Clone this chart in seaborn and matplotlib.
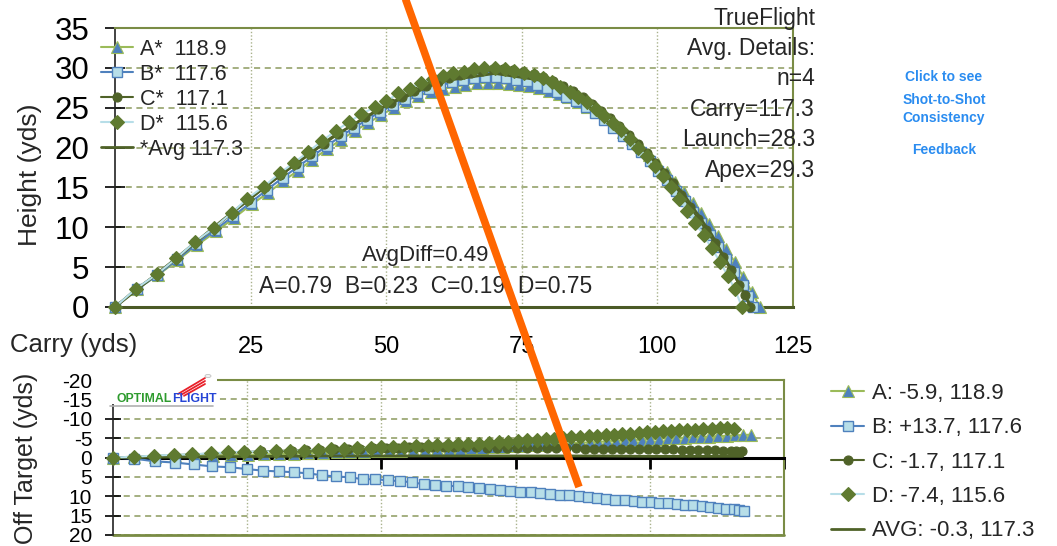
import matplotlib
matplotlib.use("Agg")
import matplotlib.pyplot as plt
from matplotlib.lines import Line2D
from matplotlib.patches import Rectangle, Circle
import seaborn as sns

# --- shot data (yds) ---
shots = ["A", "B", "C", "D"]
carry_final = [118.9, 117.6, 117.1, 115.6]
offline_final = ["-5.9", "+13.7", "-1.7", "-7.4"]
avg_carry, avg_offline = 117.3, "-0.3"

A_carry = [0, 4.0, 7.9, 11.6, 15.2, 18.7, 22.0, 25.2, 28.2, 31.0,
           33.7, 36.4, 39.1, 41.7, 44.2, 46.7, 49.1, 51.4, 53.7, 55.9,
           58.2, 60.4, 62.6, 64.6, 66.7, 68.8, 70.7, 72.6, 74.5, 76.3,
           78.1, 80.0, 81.8, 83.6, 85.4, 87.1, 88.8, 90.4, 92.0, 93.7,
           95.3, 96.9, 98.5, 100.1, 101.7, 103.3, 104.9, 106.5, 108.0, 109.6,
           111.1, 112.7, 114.3, 115.8, 117.4, 118.9]
A_height = [0, 2.2, 4.0, 5.9, 7.8, 9.5, 11.2, 12.9, 14.3, 15.8,
            17.1, 18.5, 19.8, 21.0, 22.1, 23.1, 24.1, 25.0, 25.9, 26.5,
            27.0, 27.4, 27.6, 27.9, 28.1, 28.1, 28.1, 28.0, 27.9, 27.7,
            27.5, 27.1, 26.7, 26.3, 25.7, 25.1, 24.4, 23.7, 22.9, 22.0,
            21.1, 20.1, 19.1, 18.0, 16.9, 15.7, 14.4, 13.1, 11.8, 10.4,
            8.9, 7.3, 5.6, 3.8, 1.9, 0]
A_offline = [0, -0.1, -0.2, -0.3, -0.4, -0.5, -0.6, -0.7, -0.8, -0.9,
             -1.0, -1.1, -1.2, -1.3, -1.4, -1.5, -1.6, -1.7, -1.8, -1.9,
             -2.0, -2.1, -2.2, -2.3, -2.4, -2.5, -2.6, -2.7, -2.9, -3.0,
             -3.1, -3.3, -3.4, -3.5, -3.7, -3.8, -3.9, -4.0, -4.2, -4.3,
             -4.4, -4.5, -4.6, -4.8, -4.9, -5.0, -5.0, -5.1, -5.2, -5.3,
             -5.4, -5.5, -5.6, -5.7, -5.8, -5.9]

B_carry = [0, 4.0, 7.8, 11.5, 15.0, 18.5, 21.8, 25.0, 28.0, 30.9,
           33.7, 36.4, 39.0, 41.6, 44.1, 46.5, 48.9, 51.2, 53.5, 55.7,
           57.9, 60.0, 62.1, 64.2, 66.2, 68.2, 70.2, 72.1, 74.0, 75.9,
           77.8, 79.6, 81.4, 83.2, 85.0, 86.8, 88.5, 90.2, 91.9, 93.6,
           95.3, 97.0, 98.6, 100.2, 101.8, 103.4, 105.0, 106.6, 108.1, 109.7,
           111.2, 112.7, 114.2, 115.7, 116.7, 117.6]
B_height = [0, 2.2, 4.0, 6.0, 7.9, 9.7, 11.4, 13.1, 14.7, 16.2,
            17.6, 18.9, 20.2, 21.4, 22.5, 23.5, 24.5, 25.3, 26.1, 26.8,
            27.3, 27.8, 28.2, 28.5, 28.7, 28.8, 28.8, 28.7, 28.5, 28.3,
            27.9, 27.5, 27.0, 26.4, 25.8, 25.1, 24.3, 23.4, 22.5, 21.5,
            20.5, 19.4, 18.3, 17.1, 15.9, 14.6, 13.3, 11.9, 10.5, 9.0,
            7.5, 6.0, 4.4, 2.8, 1.4, 0]
B_offline = [0, 0.3, 1.0, 1.3, 1.8, 2.3, 2.5, 3.0, 3.4, 3.6,
             3.8, 4.1, 4.6, 4.9, 5.1, 5.6, 5.6, 5.9, 6.1, 6.4,
             6.9, 7.1, 7.3, 7.4, 7.6, 7.9, 8.1, 8.4, 8.7, 8.8,
             9.0, 9.2, 9.4, 9.6, 9.8, 9.9, 10.1, 10.5, 10.7, 10.9,
             10.9, 11.2, 11.4, 11.5, 11.7, 11.8, 12.1, 12.2, 12.3, 12.5,
             12.7, 13.0, 13.2, 13.4, 13.6, 13.7]

C_carry = [0, 3.9, 7.7, 11.3, 14.8, 18.2, 21.5, 24.6, 27.6, 30.5,
           33.3, 36.0, 38.6, 41.2, 43.7, 46.1, 48.5, 50.8, 53.0, 55.2,
           57.4, 59.5, 61.6, 63.6, 65.6, 67.6, 69.6, 71.5, 73.4, 75.3,
           77.2, 79.0, 80.8, 82.6, 84.4, 86.2, 87.9, 89.6, 91.3, 93.0,
           94.7, 96.4, 98.0, 99.6, 101.2, 102.8, 104.4, 106.0, 107.5, 109.0,
           110.6, 112.1, 113.6, 115.1, 116.1, 117.1]
C_height = [0, 2.3, 4.1, 6.1, 8.1, 9.9, 11.7, 13.4, 15.0, 16.5,
            17.9, 19.2, 20.5, 21.7, 22.8, 23.8, 24.8, 25.6, 26.4, 27.1,
            27.7, 28.2, 28.7, 29.1, 29.4, 29.6, 29.8, 29.8, 29.7, 29.5,
            29.2, 28.8, 28.3, 27.7, 27.1, 26.3, 25.5, 24.6, 23.7, 22.7,
            21.6, 20.5, 19.3, 18.1, 16.8, 15.5, 14.1, 12.6, 11.1, 9.6,
            8.0, 6.3, 4.6, 2.8, 1.5, 0]
C_offline = [0, -0.2, -0.4, -0.6, -0.8, -1.0, -1.2, -1.4, -1.6, -1.7,
             -1.8, -1.9, -2.0, -2.1, -2.2, -2.3, -2.4, -2.5, -2.5, -2.6,
             -2.6, -2.6, -2.6, -2.6, -2.6, -2.6, -2.5, -2.5, -2.5, -2.5,
             -2.5, -2.4, -2.4, -2.4, -2.4, -2.4, -2.3, -2.3, -2.3, -2.3,
             -2.3, -2.2, -2.2, -2.2, -2.1, -2.1, -2.1, -2.0, -2.0, -2.0,
             -1.9, -1.9, -1.8, -1.8, -1.7, -1.7]

D_carry = [0, 3.9, 7.7, 11.3, 14.8, 18.2, 21.5, 24.4, 27.4, 30.4,
           33.0, 35.5, 38.1, 40.7, 43.1, 45.4, 48.0, 50.0, 52.2, 54.3,
           56.5, 58.6, 60.4, 62.4, 64.3, 66.2, 68.1, 70.0, 71.9, 73.6,
           75.4, 77.2, 79.0, 80.6, 82.1, 83.8, 85.4, 87.0, 88.6, 90.2,
           91.8, 93.3, 94.9, 96.4, 98.0, 99.5, 101.0, 102.5, 104.0, 105.5,
           107.0, 108.5, 110.0, 111.5, 113.0, 114.3, 115.6]
D_height = [0, 2.3, 4.1, 6.1, 8.2, 9.9, 11.8, 13.6, 15.1, 16.8,
            18.1, 19.4, 20.8, 22.1, 23.2, 24.2, 25.1, 25.8, 26.8, 27.4,
            28.1, 28.6, 29.0, 29.3, 29.5, 29.8, 30.0, 30.0, 29.9, 29.6,
            29.4, 29.1, 28.7, 28.2, 27.6, 27.0, 26.4, 25.7, 24.9, 24.0,
            23.1, 22.2, 21.1, 20.0, 18.9, 17.7, 16.4, 15.0, 13.6, 12.1,
            10.6, 9.0, 7.4, 5.7, 3.9, 2.2, 0]
D_offline = [0, -0.2, -0.5, -0.7, -0.8, -1.1, -1.3, -1.5, -1.5, -1.6,
             -1.7, -1.8, -2.0, -2.1, -2.2, -2.4, -2.5, -2.6, -2.7, -2.8,
             -2.9, -3.0, -3.1, -3.2, -3.4, -3.5, -3.6, -3.8, -3.9, -4.1,
             -4.3, -4.5, -4.6, -4.8, -4.9, -5.1, -5.3, -5.4, -5.5, -5.6,
             -5.7, -5.9, -6.0, -6.1, -6.3, -6.5, -6.6, -6.8, -6.9, -7.0,
             -7.1, -7.2, -7.3, -7.4, -7.5, -7.5, -7.4]

AVG_carry = [0, 10, 20, 30, 40, 50, 60, 70, 80, 90, 100, 105, 110, 115, 117.3]
AVG_height = [0, 5.4, 11.0, 16.3, 21.3, 25.3, 28.3, 29.3, 28.3, 24.4, 18.1, 14.0, 9.1, 3.0, 0]
AVG_offline = [0, -0.1, -0.2, -0.3, -0.4, -0.4, -0.4, -0.4, -0.4, -0.4, -0.3, -0.3, -0.3, -0.3, -0.3]

details = ["TrueFlight", "Avg. Details:", "n=4", "Carry=117.3", "Launch=28.3", "Apex=29.3"]
avg_diff = "AvgDiff=0.49"
shot_diffs = ["A=0.79", "B=0.23", "C=0.19", "D=0.75"]
feedback = [("Click to see", 77), ("Shot-to-Shot", 100), ("Consistency", 118), ("Feedback", 150)]

data = {
    "A": (A_carry, A_height, A_offline),
    "B": (B_carry, B_height, B_offline),
    "C": (C_carry, C_height, C_offline),
    "D": (D_carry, D_height, D_offline),
}

styles = {
    "A": dict(color="#9BBB59", marker="^", markersize=8, markerfacecolor="#4F81BD",
              markeredgecolor="#9BBB59", markeredgewidth=0.8),
    "B": dict(color="#4F81BD", marker="s", markersize=7.5, markerfacecolor="#B7DEE8",
              markeredgecolor="#4F81BD", markeredgewidth=1.0),
    "C": dict(color="#4F6228", marker="o", markersize=6.5, markerfacecolor="#4F6228",
              markeredgecolor="#4F6228", markeredgewidth=0.8),
    "D": dict(color="#B7DEE8", marker="D", markersize=7, markerfacecolor="#5F7A30",
              markeredgecolor="#5F7A30", markeredgewidth=0.8),
}
avg_style = dict(color="#4F6228", linewidth=2)

W, H = 1057, 546
GRID_H = "#8C9A5E"
GRID_V = "#A9B28C"
FRAME = "#7A8C45"

sns.set_theme(style="white")
plt.rcParams["font.family"] = ["Liberation Sans", "DejaVu Sans"]
plt.rcParams["axes.unicode_minus"] = False

fig = plt.figure(figsize=(W / 100, H / 100), dpi=100)
ax = fig.add_axes([115 / W, 1 - 307 / H, (793 - 115) / W, (307 - 28) / H])
ax2 = fig.add_axes([113 / W, 1 - 535 / H, (784 - 113) / W, (535 - 380) / H])

# ---------- trajectory (height vs carry) ----------
top_handles = {}
for s in ["A", "B"]:
    c, h, _ = data[s]
    sns.lineplot(x=c, y=h, ax=ax, sort=False, estimator=None, linewidth=1.5,
                 clip_on=False, zorder=3, **styles[s])
    top_handles[s] = ax.get_lines()[-1]
sns.lineplot(x=AVG_carry, y=AVG_height, ax=ax, sort=False, estimator=None,
             clip_on=False, zorder=3, **avg_style)
top_handles["AVG"] = ax.get_lines()[-1]
for s in ["C", "D"]:
    c, h, _ = data[s]
    sns.lineplot(x=c, y=h, ax=ax, sort=False, estimator=None, linewidth=1.5,
                 clip_on=False, zorder=3, **styles[s])
    top_handles[s] = ax.get_lines()[-1]

ax.set_xlim(0, 125)
ax.set_ylim(0, 35)
ax.set_xticks([25, 50, 75, 100, 125])
ax.set_xticklabels(["25", "50", "75", "100", "125"])
ax.set_yticks(range(0, 36, 5))
ax.tick_params(axis="x", length=0, pad=21, labelsize=17, colors="black")
ax.tick_params(axis="y", direction="inout", length=15, width=1.2, pad=11,
               labelsize=22.5, colors="black", left=True)
ax.yaxis.grid(True, linestyle=(0, (4, 3)), color=GRID_H, linewidth=1.1)
ax.xaxis.grid(True, linestyle=(0, (1, 1.5)), color=GRID_V, linewidth=1.0)
ax.set_axisbelow(True)
for side in ["top", "right"]:
    ax.spines[side].set_color(FRAME)
    ax.spines[side].set_linewidth(1.5)
ax.spines["bottom"].set_color("#4B5A26")
ax.spines["bottom"].set_linewidth(2.2)
ax.spines["left"].set_color("#222222")
ax.spines["left"].set_linewidth(1.2)
ax.set_xlabel("")
ax.set_ylabel("")

top_labels = [f"{s}*  {c}" for s, c in zip(shots, carry_final)] + [f"*Avg {avg_carry}"]
ax.legend([top_handles[s] for s in shots] + [top_handles["AVG"]], top_labels,
          loc="upper left", bbox_to_anchor=(101 / W, 1 - 39 / H),
          bbox_transform=fig.transFigure, frameon=False, fontsize=15.5,
          handlelength=1.5, handletextpad=0.3, labelspacing=0.18, borderpad=0,
          borderaxespad=0)

ax.text(0.458, 0.185, avg_diff, transform=ax.transAxes, ha="center", va="center", fontsize=16)
ax.text(0.458, 0.075, "  ".join(shot_diffs), transform=ax.transAxes,
        ha="center", va="center", fontsize=16.5)

# ---------- offline (off target vs carry) ----------
bot_handles = {}
for s in ["A", "B"]:
    c, _, o = data[s]
    sns.lineplot(x=c, y=o, ax=ax2, sort=False, estimator=None, linewidth=1.5,
                 clip_on=False, zorder=3, **styles[s])
    bot_handles[s] = ax2.get_lines()[-1]
sns.lineplot(x=AVG_carry, y=AVG_offline, ax=ax2, sort=False, estimator=None,
             clip_on=False, zorder=3, **avg_style)
bot_handles["AVG"] = ax2.get_lines()[-1]
for s in ["C", "D"]:
    c, _, o = data[s]
    sns.lineplot(x=c, y=o, ax=ax2, sort=False, estimator=None, linewidth=1.5,
                 clip_on=False, zorder=3, **styles[s])
    bot_handles[s] = ax2.get_lines()[-1]

ax2.set_xlim(0, 125)
ax2.set_ylim(20, -20)
ax2.set_xticks([25, 50, 75, 100, 125])
ax2.set_xticklabels([])
ax2.set_yticks(range(-20, 21, 5))
ax2.tick_params(axis="x", direction="out", length=8, width=2, colors="black", bottom=True)
ax2.tick_params(axis="y", direction="inout", length=12, width=1.2, pad=9,
                labelsize=15, colors="black", left=True)
ax2.yaxis.grid(True, linestyle=(0, (4, 3)), color=GRID_H, linewidth=1.1)
ax2.xaxis.grid(True, linestyle=(0, (1, 1.5)), color=GRID_V, linewidth=1.0)
ax2.set_axisbelow(True)
ax2.spines["bottom"].set_position(("data", 0))
ax2.spines["bottom"].set_color("black")
ax2.spines["bottom"].set_linewidth(2.2)
for side in ["top", "right"]:
    ax2.spines[side].set_color(FRAME)
    ax2.spines[side].set_linewidth(1.5)
ax2.axhline(20, color=FRAME, linewidth=2, clip_on=False, zorder=2)
ax2.spines["left"].set_color("#222222")
ax2.spines["left"].set_linewidth(1.2)
ax2.set_xlabel("")
ax2.set_ylabel("")

bot_labels = [f"{s}: {o}, {c}" for s, o, c in zip(shots, offline_final, carry_final)]
bot_labels.append(f"AVG: {avg_offline}, {avg_carry}")
fig.legend([bot_handles[s] for s in shots] + [bot_handles["AVG"]], bot_labels,
           loc="upper left", bbox_to_anchor=(831 / W, 1 - 383 / H),
           frameon=False, fontsize=16, handlelength=1.5, handletextpad=0.35,
           labelspacing=0.6, borderpad=0, borderaxespad=0)

# ---------- axis titles & side text ----------
fig.text(30 / W, 1 - 175 / H, "Height (yds)", rotation=90, ha="center", va="center", fontsize=19)
fig.text(10 / W, 1 - 345 / H, "Carry (yds)", ha="left", va="center", fontsize=18.5)
fig.text(26 / W, 1 - 458 / H, "Off Target (yds)", rotation=90, ha="center", va="center", fontsize=18)

for i, line in enumerate(details):
    fig.text(815 / W, 1 - (18 + 30.4 * i) / H, line, ha="right", va="center", fontsize=16.5)

for txt, y in feedback:
    fig.text(944 / W, 1 - y / H, txt, ha="center", va="center", fontsize=10,
             fontweight="bold", color="#2A8CF0")

# ---------- OptimalFlight logo over the top-left of the offline chart ----------
fig.add_artist(Rectangle((100 / W, 1 - 404 / H), (217 - 100) / W, (404 - 366) / H,
                         transform=fig.transFigure, facecolor="white",
                         edgecolor="none", zorder=4))
fig.text(172 / W, 1 - 399 / H, "OPTIMAL", ha="right", va="center", fontsize=8.8,
         fontweight="bold", color="#2E9B2E", zorder=5)
fig.text(172 / W, 1 - 399 / H, "FLIGHT", ha="left", va="center", fontsize=8.8,
         fontweight="bold", color="#2645D6", zorder=5)
fig.add_artist(Line2D([110 / W, 213 / W], [1 - 406 / H, 1 - 406 / H],
                      color="#B0B0B0", linewidth=1.2, zorder=5))
for dy in (0, 3, 6):
    fig.add_artist(Line2D([(178 + dy) / W, 205 / W], [1 - (394 + dy * 0.3) / H, 1 - (378 + dy) / H],
                          color="#E8202A", linewidth=1.3, zorder=5))
fig.add_artist(Circle((208 / W, 1 - 376 / H), 3 / W, transform=fig.transFigure,
                      facecolor="#F2F2F2", edgecolor="#C0C0C0", linewidth=0.6, zorder=6))

# ---------- orange annotation stroke drawn over the screenshot ----------
fig.add_artist(Line2D([403 / W, 579 / W], [1 + 8 / H, 1 - 487 / H],
                      color="#FF6600", linewidth=5.5, solid_capstyle="butt", zorder=10))

fig.savefig("out.png", dpi=100)
